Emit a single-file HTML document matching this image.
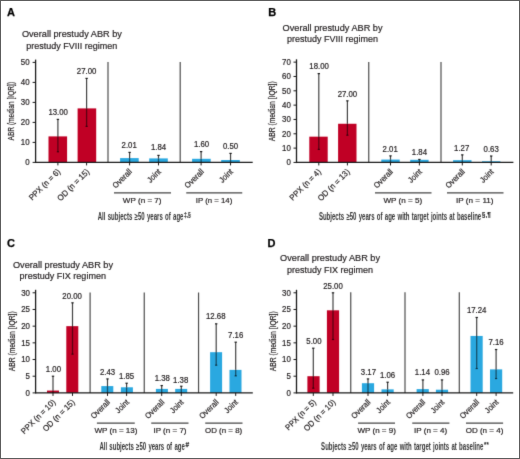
<!DOCTYPE html>
<html><head><meta charset="utf-8"><style>
html,body{margin:0;padding:0;background:#fff;}
body{width:520px;height:459px;overflow:hidden;}
svg{display:block;font-family:"Liberation Sans", sans-serif;}
.n{stroke:#231f20;stroke-width:0.2px;}
</style></head><body>
<svg width="520" height="459" viewBox="0 0 520 459">
<defs><filter id="soft" x="0" y="0" width="520" height="459" filterUnits="userSpaceOnUse" color-interpolation-filters="sRGB"><feConvolveMatrix order="3" kernelMatrix="0.0100 0.0800 0.0100 0.0800 0.6400 0.0800 0.0100 0.0800 0.0100" divisor="1" edgeMode="duplicate"/></filter></defs>
<g filter="url(#soft)">
<rect x="0" y="0" width="520" height="459" fill="#fff"/>
<text x="6.9" y="16.3" font-size="11" text-anchor="start" font-weight="bold" fill="#000" stroke="#000" stroke-width="0.25">A</text>
<text class="n" x="21.9" y="37" font-size="9.75" text-anchor="start" font-weight="normal" fill="#231f20" textLength="100" lengthAdjust="spacingAndGlyphs" >Overall prestudy ABR by</text>
<text class="n" x="26.25" y="48.6" font-size="9.75" text-anchor="start" font-weight="normal" fill="#231f20" textLength="91" lengthAdjust="spacingAndGlyphs" >prestudy FVIII regimen</text>
<text x="0" y="0" font-size="8.4" class="n" text-anchor="middle" fill="#231f20" textLength="58.6" lengthAdjust="spacingAndGlyphs" transform="translate(14.2,111.2) rotate(-90)">ABR (median [IQR])</text>
<line x1="32.6" y1="162.4" x2="35.6" y2="162.4" stroke="#1a1a1a" stroke-width="1"/>
<text class="n" x="29.6" y="165.3" font-size="8.3" text-anchor="end" font-weight="normal" fill="#231f20" textLength="4.39" lengthAdjust="spacingAndGlyphs" >0</text>
<line x1="32.6" y1="142.4" x2="35.6" y2="142.4" stroke="#1a1a1a" stroke-width="1"/>
<text class="n" x="29.6" y="145.3" font-size="8.3" text-anchor="end" font-weight="normal" fill="#231f20" textLength="8.78" lengthAdjust="spacingAndGlyphs" >10</text>
<line x1="32.6" y1="122.4" x2="35.6" y2="122.4" stroke="#1a1a1a" stroke-width="1"/>
<text class="n" x="29.6" y="125.30000000000001" font-size="8.3" text-anchor="end" font-weight="normal" fill="#231f20" textLength="8.78" lengthAdjust="spacingAndGlyphs" >20</text>
<line x1="32.6" y1="102.4" x2="35.6" y2="102.4" stroke="#1a1a1a" stroke-width="1"/>
<text class="n" x="29.6" y="105.30000000000001" font-size="8.3" text-anchor="end" font-weight="normal" fill="#231f20" textLength="8.78" lengthAdjust="spacingAndGlyphs" >30</text>
<line x1="32.6" y1="82.4" x2="35.6" y2="82.4" stroke="#1a1a1a" stroke-width="1"/>
<text class="n" x="29.6" y="85.30000000000001" font-size="8.3" text-anchor="end" font-weight="normal" fill="#231f20" textLength="8.78" lengthAdjust="spacingAndGlyphs" >40</text>
<line x1="32.6" y1="62.400000000000006" x2="35.6" y2="62.400000000000006" stroke="#1a1a1a" stroke-width="1"/>
<text class="n" x="29.6" y="65.30000000000001" font-size="8.3" text-anchor="end" font-weight="normal" fill="#231f20" textLength="8.78" lengthAdjust="spacingAndGlyphs" >50</text>
<line x1="35.6" y1="59.6" x2="35.6" y2="163.0" stroke="#1a1a1a" stroke-width="1.3"/>
<line x1="108.0" y1="61.9" x2="108.0" y2="162.4" stroke="#4d4d4d" stroke-width="1.2"/>
<line x1="180.2" y1="61.9" x2="180.2" y2="162.4" stroke="#4d4d4d" stroke-width="1.2"/>
<rect x="48.50" y="136.40" width="18.6" height="26.00" fill="#c00025"/>
<rect x="77.60" y="108.40" width="18.6" height="54.00" fill="#c00025"/>
<rect x="120.10" y="158.10" width="18.6" height="4.30" fill="#2aa8e0"/>
<rect x="149.20" y="158.40" width="18.6" height="4.00" fill="#2aa8e0"/>
<rect x="192.10" y="158.80" width="18.6" height="3.60" fill="#2aa8e0"/>
<rect x="221.20" y="160.00" width="18.6" height="2.40" fill="#2aa8e0"/>
<line x1="35.6" y1="162.4" x2="252.7" y2="162.4" stroke="#1a1a1a" stroke-width="1.3"/>
<line x1="57.9" y1="119.4" x2="57.9" y2="136.4" stroke="#000" stroke-opacity="0.74" stroke-width="1.2"/>
<line x1="57.9" y1="136.4" x2="57.9" y2="151.8" stroke="#000" stroke-opacity="0.52" stroke-width="1.3"/>
<line x1="56.8" y1="151.8" x2="59.0" y2="151.8" stroke="#000" stroke-opacity="0.6" stroke-width="1.2"/>
<line x1="56.699999999999996" y1="119.4" x2="59.1" y2="119.4" stroke="#000" stroke-opacity="0.85" stroke-width="1.2"/>
<line x1="57.9" y1="162.4" x2="57.9" y2="165.4" stroke="#1a1a1a" stroke-width="1"/>
<text class="n" x="58.199999999999996" y="114.70000000000002" font-size="8.3" text-anchor="middle" font-weight="normal" fill="#231f20" textLength="19.52" lengthAdjust="spacingAndGlyphs" >13.00</text>
<line x1="86.6" y1="78.4" x2="86.6" y2="108.4" stroke="#000" stroke-opacity="0.74" stroke-width="1.2"/>
<line x1="86.6" y1="108.4" x2="86.6" y2="126.4" stroke="#000" stroke-opacity="0.52" stroke-width="1.3"/>
<line x1="85.5" y1="126.4" x2="87.69999999999999" y2="126.4" stroke="#000" stroke-opacity="0.6" stroke-width="1.2"/>
<line x1="85.39999999999999" y1="78.4" x2="87.8" y2="78.4" stroke="#000" stroke-opacity="0.85" stroke-width="1.2"/>
<line x1="86.6" y1="162.4" x2="86.6" y2="165.4" stroke="#1a1a1a" stroke-width="1"/>
<text class="n" x="86.6" y="74.30000000000001" font-size="8.3" text-anchor="middle" font-weight="normal" fill="#231f20" textLength="19.52" lengthAdjust="spacingAndGlyphs" >27.00</text>
<line x1="129.6" y1="152.4" x2="129.6" y2="158.1" stroke="#000" stroke-opacity="0.74" stroke-width="1.2"/>
<line x1="129.6" y1="158.1" x2="129.6" y2="162.4" stroke="#000" stroke-opacity="0.52" stroke-width="1.3"/>
<line x1="128.4" y1="152.4" x2="130.79999999999998" y2="152.4" stroke="#000" stroke-opacity="0.85" stroke-width="1.2"/>
<line x1="129.6" y1="162.4" x2="129.6" y2="165.4" stroke="#1a1a1a" stroke-width="1"/>
<text class="n" x="129.2" y="148.0" font-size="8.3" text-anchor="middle" font-weight="normal" fill="#231f20" textLength="15.18" lengthAdjust="spacingAndGlyphs" >2.01</text>
<line x1="158.5" y1="155.4" x2="158.5" y2="158.4" stroke="#000" stroke-opacity="0.74" stroke-width="1.2"/>
<line x1="158.5" y1="158.4" x2="158.5" y2="162.4" stroke="#000" stroke-opacity="0.52" stroke-width="1.3"/>
<line x1="157.3" y1="155.4" x2="159.7" y2="155.4" stroke="#000" stroke-opacity="0.85" stroke-width="1.2"/>
<line x1="158.5" y1="162.4" x2="158.5" y2="165.4" stroke="#1a1a1a" stroke-width="1"/>
<text class="n" x="158.5" y="150.3" font-size="8.3" text-anchor="middle" font-weight="normal" fill="#231f20" textLength="15.18" lengthAdjust="spacingAndGlyphs" >1.84</text>
<line x1="201.1" y1="151.6" x2="201.1" y2="158.8" stroke="#000" stroke-opacity="0.74" stroke-width="1.2"/>
<line x1="201.1" y1="158.8" x2="201.1" y2="162.4" stroke="#000" stroke-opacity="0.52" stroke-width="1.3"/>
<line x1="199.9" y1="151.6" x2="202.29999999999998" y2="151.6" stroke="#000" stroke-opacity="0.85" stroke-width="1.2"/>
<line x1="201.1" y1="162.4" x2="201.1" y2="165.4" stroke="#1a1a1a" stroke-width="1"/>
<text class="n" x="201.6" y="146.9" font-size="8.3" text-anchor="middle" font-weight="normal" fill="#231f20" textLength="15.18" lengthAdjust="spacingAndGlyphs" >1.60</text>
<line x1="230.55" y1="153.4" x2="230.55" y2="160.0" stroke="#000" stroke-opacity="0.74" stroke-width="1.2"/>
<line x1="230.55" y1="160.0" x2="230.55" y2="162.4" stroke="#000" stroke-opacity="0.52" stroke-width="1.3"/>
<line x1="229.35000000000002" y1="153.4" x2="231.75" y2="153.4" stroke="#000" stroke-opacity="0.85" stroke-width="1.2"/>
<line x1="230.55" y1="162.4" x2="230.55" y2="165.4" stroke="#1a1a1a" stroke-width="1"/>
<text class="n" x="230.55" y="148.8" font-size="8.3" text-anchor="middle" font-weight="normal" fill="#231f20" textLength="15.18" lengthAdjust="spacingAndGlyphs" >0.50</text>
<text class="n" x="0" y="0" font-size="8.2" text-anchor="end" fill="#231f20" textLength="40.5" lengthAdjust="spacingAndGlyphs" transform="translate(60.80,172.20) rotate(-45)">PPX (n = 6)</text>
<text class="n" x="0" y="0" font-size="8.2" text-anchor="end" fill="#231f20" textLength="41.5" lengthAdjust="spacingAndGlyphs" transform="translate(89.90,172.20) rotate(-45)">OD (n = 15)</text>
<text class="n" x="0" y="0" font-size="8.2" text-anchor="end" fill="#231f20" textLength="23.4" lengthAdjust="spacingAndGlyphs" transform="translate(132.40,172.20) rotate(-45)">Overall</text>
<text class="n" x="0" y="0" font-size="8.2" text-anchor="end" fill="#231f20" textLength="15.6" lengthAdjust="spacingAndGlyphs" transform="translate(161.50,172.20) rotate(-45)">Joint</text>
<text class="n" x="0" y="0" font-size="8.2" text-anchor="end" fill="#231f20" textLength="23.4" lengthAdjust="spacingAndGlyphs" transform="translate(204.40,172.20) rotate(-45)">Overall</text>
<text class="n" x="0" y="0" font-size="8.2" text-anchor="end" fill="#231f20" textLength="15.6" lengthAdjust="spacingAndGlyphs" transform="translate(233.50,172.20) rotate(-45)">Joint</text>
<line x1="114" y1="192.9" x2="171" y2="192.9" stroke="#444" stroke-width="1.4"/>
<text class="n" x="142.2" y="203.25" font-size="7.8" text-anchor="middle" font-weight="normal" fill="#231f20" textLength="38.7" lengthAdjust="spacingAndGlyphs" >WP (n = 7)</text>
<line x1="186.25" y1="192.9" x2="242.25" y2="192.9" stroke="#444" stroke-width="1.4"/>
<text class="n" x="214" y="203.25" font-size="7.8" text-anchor="middle" font-weight="normal" fill="#231f20" textLength="36.5" lengthAdjust="spacingAndGlyphs" >IP (n = 14)</text>
<text x="97.7" y="219.7" font-size="10" text-anchor="start" font-weight="bold" fill="#333" textLength="85.8" lengthAdjust="spacingAndGlyphs" word-spacing="1">All subjects ≥50 years of age</text>
<text x="184.0" y="216.79999999999998" font-size="6.8" text-anchor="start" font-weight="500" fill="#2a2a2a" textLength="6.8" lengthAdjust="spacingAndGlyphs" stroke="#2a2a2a" stroke-width="0.25">‡,§</text>
<text x="268.2" y="16.3" font-size="11" text-anchor="start" font-weight="bold" fill="#000" stroke="#000" stroke-width="0.25">B</text>
<text class="n" x="282.6" y="30.7" font-size="9.75" text-anchor="start" font-weight="normal" fill="#231f20" textLength="99.9" lengthAdjust="spacingAndGlyphs" >Overall prestudy ABR by</text>
<text class="n" x="287" y="42.4" font-size="9.75" text-anchor="start" font-weight="normal" fill="#231f20" textLength="90.9" lengthAdjust="spacingAndGlyphs" >prestudy FVIII regimen</text>
<text x="0" y="0" font-size="8.4" class="n" text-anchor="middle" fill="#231f20" textLength="60" lengthAdjust="spacingAndGlyphs" transform="translate(275.3,111.25) rotate(-90)">ABR (median [IQR])</text>
<line x1="293.5" y1="162.45" x2="296.5" y2="162.45" stroke="#1a1a1a" stroke-width="1"/>
<text class="n" x="290.8" y="165.35" font-size="8.3" text-anchor="end" font-weight="normal" fill="#231f20" textLength="4.39" lengthAdjust="spacingAndGlyphs" >0</text>
<line x1="293.5" y1="148.11999999999998" x2="296.5" y2="148.11999999999998" stroke="#1a1a1a" stroke-width="1"/>
<text class="n" x="290.8" y="151.01999999999998" font-size="8.3" text-anchor="end" font-weight="normal" fill="#231f20" textLength="8.78" lengthAdjust="spacingAndGlyphs" >10</text>
<line x1="293.5" y1="133.79" x2="296.5" y2="133.79" stroke="#1a1a1a" stroke-width="1"/>
<text class="n" x="290.8" y="136.69" font-size="8.3" text-anchor="end" font-weight="normal" fill="#231f20" textLength="8.78" lengthAdjust="spacingAndGlyphs" >20</text>
<line x1="293.5" y1="119.45999999999998" x2="296.5" y2="119.45999999999998" stroke="#1a1a1a" stroke-width="1"/>
<text class="n" x="290.8" y="122.35999999999999" font-size="8.3" text-anchor="end" font-weight="normal" fill="#231f20" textLength="8.78" lengthAdjust="spacingAndGlyphs" >30</text>
<line x1="293.5" y1="105.13" x2="296.5" y2="105.13" stroke="#1a1a1a" stroke-width="1"/>
<text class="n" x="290.8" y="108.03" font-size="8.3" text-anchor="end" font-weight="normal" fill="#231f20" textLength="8.78" lengthAdjust="spacingAndGlyphs" >40</text>
<line x1="293.5" y1="90.79999999999998" x2="296.5" y2="90.79999999999998" stroke="#1a1a1a" stroke-width="1"/>
<text class="n" x="290.8" y="93.69999999999999" font-size="8.3" text-anchor="end" font-weight="normal" fill="#231f20" textLength="8.78" lengthAdjust="spacingAndGlyphs" >50</text>
<line x1="293.5" y1="76.46999999999998" x2="296.5" y2="76.46999999999998" stroke="#1a1a1a" stroke-width="1"/>
<text class="n" x="290.8" y="79.36999999999999" font-size="8.3" text-anchor="end" font-weight="normal" fill="#231f20" textLength="8.78" lengthAdjust="spacingAndGlyphs" >60</text>
<line x1="293.5" y1="62.139999999999986" x2="296.5" y2="62.139999999999986" stroke="#1a1a1a" stroke-width="1"/>
<text class="n" x="290.8" y="65.03999999999999" font-size="8.3" text-anchor="end" font-weight="normal" fill="#231f20" textLength="8.78" lengthAdjust="spacingAndGlyphs" >70</text>
<line x1="296.5" y1="59.3" x2="296.5" y2="163.04999999999998" stroke="#1a1a1a" stroke-width="1.3"/>
<line x1="368.75" y1="61.9" x2="368.75" y2="162.45" stroke="#4d4d4d" stroke-width="1.2"/>
<line x1="441.0" y1="61.9" x2="441.0" y2="162.45" stroke="#4d4d4d" stroke-width="1.2"/>
<rect x="309.30" y="136.66" width="18.4" height="25.79" fill="#c00025"/>
<rect x="338.10" y="123.76" width="18.4" height="38.69" fill="#c00025"/>
<rect x="381.30" y="159.57" width="18.4" height="2.88" fill="#2aa8e0"/>
<rect x="410.20" y="159.81" width="18.4" height="2.64" fill="#2aa8e0"/>
<rect x="453.10" y="160.16" width="18.4" height="2.29" fill="#2aa8e0"/>
<rect x="482.00" y="161.25" width="18.4" height="1.20" fill="#2aa8e0"/>
<line x1="296.5" y1="162.45" x2="513.4" y2="162.45" stroke="#1a1a1a" stroke-width="1.3"/>
<line x1="318.8" y1="73.60399999999998" x2="318.8" y2="136.65599999999998" stroke="#000" stroke-opacity="0.74" stroke-width="1.2"/>
<line x1="318.8" y1="136.65599999999998" x2="318.8" y2="149.4097" stroke="#000" stroke-opacity="0.52" stroke-width="1.3"/>
<line x1="317.7" y1="149.4097" x2="319.90000000000003" y2="149.4097" stroke="#000" stroke-opacity="0.6" stroke-width="1.2"/>
<line x1="317.6" y1="73.60399999999998" x2="320.0" y2="73.60399999999998" stroke="#000" stroke-opacity="0.85" stroke-width="1.2"/>
<line x1="318.8" y1="162.45" x2="318.8" y2="165.45" stroke="#1a1a1a" stroke-width="1"/>
<text class="n" x="319.1" y="69.204" font-size="8.3" text-anchor="middle" font-weight="normal" fill="#231f20" textLength="19.52" lengthAdjust="spacingAndGlyphs" >18.00</text>
<line x1="347.4" y1="100.83099999999999" x2="347.4" y2="123.75899999999999" stroke="#000" stroke-opacity="0.74" stroke-width="1.2"/>
<line x1="347.4" y1="123.75899999999999" x2="347.4" y2="135.22299999999998" stroke="#000" stroke-opacity="0.52" stroke-width="1.3"/>
<line x1="346.29999999999995" y1="135.22299999999998" x2="348.5" y2="135.22299999999998" stroke="#000" stroke-opacity="0.6" stroke-width="1.2"/>
<line x1="346.2" y1="100.83099999999999" x2="348.59999999999997" y2="100.83099999999999" stroke="#000" stroke-opacity="0.85" stroke-width="1.2"/>
<line x1="347.4" y1="162.45" x2="347.4" y2="165.45" stroke="#1a1a1a" stroke-width="1"/>
<text class="n" x="347.4" y="97.33099999999999" font-size="8.3" text-anchor="middle" font-weight="normal" fill="#231f20" textLength="19.52" lengthAdjust="spacingAndGlyphs" >27.00</text>
<line x1="390.5" y1="155.85819999999998" x2="390.5" y2="159.56967" stroke="#000" stroke-opacity="0.74" stroke-width="1.2"/>
<line x1="390.5" y1="159.56967" x2="390.5" y2="162.45" stroke="#000" stroke-opacity="0.52" stroke-width="1.3"/>
<line x1="389.3" y1="155.85819999999998" x2="391.7" y2="155.85819999999998" stroke="#000" stroke-opacity="0.85" stroke-width="1.2"/>
<line x1="390.5" y1="162.45" x2="390.5" y2="165.45" stroke="#1a1a1a" stroke-width="1"/>
<text class="n" x="390.2" y="152.1582" font-size="8.3" text-anchor="middle" font-weight="normal" fill="#231f20" textLength="15.18" lengthAdjust="spacingAndGlyphs" >2.01</text>
<line x1="419.4" y1="159.4407" x2="419.4" y2="159.81328" stroke="#000" stroke-opacity="0.74" stroke-width="1.2"/>
<line x1="419.4" y1="159.81328" x2="419.4" y2="162.45" stroke="#000" stroke-opacity="0.52" stroke-width="1.3"/>
<line x1="418.2" y1="159.4407" x2="420.59999999999997" y2="159.4407" stroke="#000" stroke-opacity="0.85" stroke-width="1.2"/>
<line x1="419.4" y1="162.45" x2="419.4" y2="165.45" stroke="#1a1a1a" stroke-width="1"/>
<text class="n" x="419.4" y="154.8407" font-size="8.3" text-anchor="middle" font-weight="normal" fill="#231f20" textLength="15.18" lengthAdjust="spacingAndGlyphs" >1.84</text>
<line x1="462.3" y1="154.8551" x2="462.3" y2="160.1572" stroke="#000" stroke-opacity="0.74" stroke-width="1.2"/>
<line x1="462.3" y1="160.1572" x2="462.3" y2="162.45" stroke="#000" stroke-opacity="0.52" stroke-width="1.3"/>
<line x1="461.1" y1="154.8551" x2="463.5" y2="154.8551" stroke="#000" stroke-opacity="0.85" stroke-width="1.2"/>
<line x1="462.3" y1="162.45" x2="462.3" y2="165.45" stroke="#1a1a1a" stroke-width="1"/>
<text class="n" x="461.7" y="151.1551" font-size="8.3" text-anchor="middle" font-weight="normal" fill="#231f20" textLength="15.18" lengthAdjust="spacingAndGlyphs" >1.27</text>
<line x1="491.2" y1="156.0015" x2="491.2" y2="161.3036" stroke="#000" stroke-opacity="0.74" stroke-width="1.2"/>
<line x1="491.2" y1="161.3036" x2="491.2" y2="162.45" stroke="#000" stroke-opacity="0.52" stroke-width="1.3"/>
<line x1="490.0" y1="156.0015" x2="492.4" y2="156.0015" stroke="#000" stroke-opacity="0.85" stroke-width="1.2"/>
<line x1="491.2" y1="162.45" x2="491.2" y2="165.45" stroke="#1a1a1a" stroke-width="1"/>
<text class="n" x="491.2" y="152.4015" font-size="8.3" text-anchor="middle" font-weight="normal" fill="#231f20" textLength="15.18" lengthAdjust="spacingAndGlyphs" >0.63</text>
<text class="n" x="0" y="0" font-size="8.2" text-anchor="end" fill="#231f20" textLength="40.5" lengthAdjust="spacingAndGlyphs" transform="translate(321.50,172.25) rotate(-45)">PPX (n = 4)</text>
<text class="n" x="0" y="0" font-size="8.2" text-anchor="end" fill="#231f20" textLength="41.5" lengthAdjust="spacingAndGlyphs" transform="translate(350.30,172.25) rotate(-45)">OD (n = 13)</text>
<text class="n" x="0" y="0" font-size="8.2" text-anchor="end" fill="#231f20" textLength="23.4" lengthAdjust="spacingAndGlyphs" transform="translate(393.50,172.25) rotate(-45)">Overall</text>
<text class="n" x="0" y="0" font-size="8.2" text-anchor="end" fill="#231f20" textLength="15.6" lengthAdjust="spacingAndGlyphs" transform="translate(422.40,172.25) rotate(-45)">Joint</text>
<text class="n" x="0" y="0" font-size="8.2" text-anchor="end" fill="#231f20" textLength="23.4" lengthAdjust="spacingAndGlyphs" transform="translate(465.30,172.25) rotate(-45)">Overall</text>
<text class="n" x="0" y="0" font-size="8.2" text-anchor="end" fill="#231f20" textLength="15.6" lengthAdjust="spacingAndGlyphs" transform="translate(494.20,172.25) rotate(-45)">Joint</text>
<line x1="375" y1="192.9" x2="431.5" y2="192.9" stroke="#444" stroke-width="1.4"/>
<text class="n" x="402.8" y="202.9" font-size="7.8" text-anchor="middle" font-weight="normal" fill="#231f20" textLength="38.7" lengthAdjust="spacingAndGlyphs" >WP (n = 5)</text>
<line x1="447" y1="192.9" x2="503.5" y2="192.9" stroke="#444" stroke-width="1.4"/>
<text class="n" x="474.8" y="202.9" font-size="7.8" text-anchor="middle" font-weight="normal" fill="#231f20" textLength="37.5" lengthAdjust="spacingAndGlyphs" >IP (n = 11)</text>
<text x="318.9" y="219.5" font-size="10" text-anchor="start" font-weight="bold" fill="#333" textLength="162.3" lengthAdjust="spacingAndGlyphs" word-spacing="1">Subjects ≥50 years of age with target joints at baseline</text>
<text x="481.79999999999995" y="216.6" font-size="6.8" text-anchor="start" font-weight="500" fill="#2a2a2a" textLength="9" lengthAdjust="spacingAndGlyphs" stroke="#2a2a2a" stroke-width="0.25">§,¶</text>
<text x="7.0" y="246.6" font-size="11" text-anchor="start" font-weight="bold" fill="#000" stroke="#000" stroke-width="0.25">C</text>
<text class="n" x="12.9" y="267.5" font-size="9.75" text-anchor="start" font-weight="normal" fill="#231f20" textLength="100.2" lengthAdjust="spacingAndGlyphs" >Overall prestudy ABR by</text>
<text class="n" x="19.6" y="279.0" font-size="9.75" text-anchor="start" font-weight="normal" fill="#231f20" textLength="86.4" lengthAdjust="spacingAndGlyphs" >prestudy FIX regimen</text>
<text x="0" y="0" font-size="8.4" class="n" text-anchor="middle" fill="#231f20" textLength="60" lengthAdjust="spacingAndGlyphs" transform="translate(15,341.25) rotate(-90)">ABR (median [IQR])</text>
<line x1="32.6" y1="392.9" x2="35.6" y2="392.9" stroke="#1a1a1a" stroke-width="1"/>
<text class="n" x="30" y="395.79999999999995" font-size="8.3" text-anchor="end" font-weight="normal" fill="#231f20" textLength="4.39" lengthAdjust="spacingAndGlyphs" >0</text>
<line x1="32.6" y1="376.215" x2="35.6" y2="376.215" stroke="#1a1a1a" stroke-width="1"/>
<text class="n" x="30" y="379.11499999999995" font-size="8.3" text-anchor="end" font-weight="normal" fill="#231f20" textLength="4.39" lengthAdjust="spacingAndGlyphs" >5</text>
<line x1="32.6" y1="359.53" x2="35.6" y2="359.53" stroke="#1a1a1a" stroke-width="1"/>
<text class="n" x="30" y="362.42999999999995" font-size="8.3" text-anchor="end" font-weight="normal" fill="#231f20" textLength="8.78" lengthAdjust="spacingAndGlyphs" >10</text>
<line x1="32.6" y1="342.84499999999997" x2="35.6" y2="342.84499999999997" stroke="#1a1a1a" stroke-width="1"/>
<text class="n" x="30" y="345.74499999999995" font-size="8.3" text-anchor="end" font-weight="normal" fill="#231f20" textLength="8.78" lengthAdjust="spacingAndGlyphs" >15</text>
<line x1="32.6" y1="326.15999999999997" x2="35.6" y2="326.15999999999997" stroke="#1a1a1a" stroke-width="1"/>
<text class="n" x="30" y="329.05999999999995" font-size="8.3" text-anchor="end" font-weight="normal" fill="#231f20" textLength="8.78" lengthAdjust="spacingAndGlyphs" >20</text>
<line x1="32.6" y1="309.47499999999997" x2="35.6" y2="309.47499999999997" stroke="#1a1a1a" stroke-width="1"/>
<text class="n" x="30" y="312.37499999999994" font-size="8.3" text-anchor="end" font-weight="normal" fill="#231f20" textLength="8.78" lengthAdjust="spacingAndGlyphs" >25</text>
<line x1="32.6" y1="292.78999999999996" x2="35.6" y2="292.78999999999996" stroke="#1a1a1a" stroke-width="1"/>
<text class="n" x="30" y="295.68999999999994" font-size="8.3" text-anchor="end" font-weight="normal" fill="#231f20" textLength="8.78" lengthAdjust="spacingAndGlyphs" >30</text>
<line x1="35.6" y1="289.8" x2="35.6" y2="393.5" stroke="#1a1a1a" stroke-width="1.3"/>
<line x1="90.1" y1="292.5" x2="90.1" y2="392.9" stroke="#4d4d4d" stroke-width="1.2"/>
<line x1="144.25" y1="292.5" x2="144.25" y2="392.9" stroke="#4d4d4d" stroke-width="1.2"/>
<line x1="198.55" y1="292.5" x2="198.55" y2="392.9" stroke="#4d4d4d" stroke-width="1.2"/>
<rect x="47.00" y="390.56" width="12" height="2.34" fill="#c00025"/>
<rect x="66.30" y="326.16" width="12" height="66.74" fill="#c00025"/>
<rect x="101.30" y="386.09" width="12" height="6.81" fill="#2aa8e0"/>
<rect x="120.90" y="387.29" width="12" height="5.61" fill="#2aa8e0"/>
<rect x="155.90" y="388.90" width="12" height="4.00" fill="#2aa8e0"/>
<rect x="175.20" y="388.90" width="12" height="4.00" fill="#2aa8e0"/>
<rect x="210.10" y="352.19" width="12" height="40.71" fill="#2aa8e0"/>
<rect x="229.50" y="369.87" width="12" height="23.03" fill="#2aa8e0"/>
<line x1="35.6" y1="392.9" x2="252.8" y2="392.9" stroke="#1a1a1a" stroke-width="1.3"/>
<line x1="53" y1="376.215" x2="53" y2="390.5641" stroke="#000" stroke-opacity="0.74" stroke-width="1.2"/>
<line x1="53" y1="390.5641" x2="53" y2="392.9" stroke="#000" stroke-opacity="0.52" stroke-width="1.3"/>
<line x1="51.8" y1="376.215" x2="54.2" y2="376.215" stroke="#000" stroke-opacity="0.85" stroke-width="1.2"/>
<line x1="53" y1="392.9" x2="53" y2="395.9" stroke="#1a1a1a" stroke-width="1"/>
<text class="n" x="53.4" y="372.41499999999996" font-size="8.3" text-anchor="middle" font-weight="normal" fill="#231f20" textLength="15.18" lengthAdjust="spacingAndGlyphs" >1.00</text>
<line x1="72.5" y1="302.801" x2="72.5" y2="326.15999999999997" stroke="#000" stroke-opacity="0.74" stroke-width="1.2"/>
<line x1="72.5" y1="326.15999999999997" x2="72.5" y2="354.19079999999997" stroke="#000" stroke-opacity="0.52" stroke-width="1.3"/>
<line x1="71.4" y1="354.19079999999997" x2="73.6" y2="354.19079999999997" stroke="#000" stroke-opacity="0.6" stroke-width="1.2"/>
<line x1="71.3" y1="302.801" x2="73.7" y2="302.801" stroke="#000" stroke-opacity="0.85" stroke-width="1.2"/>
<line x1="72.5" y1="392.9" x2="72.5" y2="395.9" stroke="#1a1a1a" stroke-width="1"/>
<text class="n" x="72.1" y="298.70099999999996" font-size="8.3" text-anchor="middle" font-weight="normal" fill="#231f20" textLength="19.52" lengthAdjust="spacingAndGlyphs" >20.00</text>
<line x1="107.5" y1="378.8846" x2="107.5" y2="386.09252" stroke="#000" stroke-opacity="0.74" stroke-width="1.2"/>
<line x1="107.5" y1="386.09252" x2="107.5" y2="392.9" stroke="#000" stroke-opacity="0.52" stroke-width="1.3"/>
<line x1="106.3" y1="378.8846" x2="108.7" y2="378.8846" stroke="#000" stroke-opacity="0.85" stroke-width="1.2"/>
<line x1="107.5" y1="392.9" x2="107.5" y2="395.9" stroke="#1a1a1a" stroke-width="1"/>
<text class="n" x="107.5" y="374.78459999999995" font-size="8.3" text-anchor="middle" font-weight="normal" fill="#231f20" textLength="15.18" lengthAdjust="spacingAndGlyphs" >2.43</text>
<line x1="126.6" y1="383.2227" x2="126.6" y2="387.29384" stroke="#000" stroke-opacity="0.74" stroke-width="1.2"/>
<line x1="126.6" y1="387.29384" x2="126.6" y2="392.9" stroke="#000" stroke-opacity="0.52" stroke-width="1.3"/>
<line x1="125.39999999999999" y1="383.2227" x2="127.8" y2="383.2227" stroke="#000" stroke-opacity="0.85" stroke-width="1.2"/>
<line x1="126.6" y1="392.9" x2="126.6" y2="395.9" stroke="#1a1a1a" stroke-width="1"/>
<text class="n" x="126.6" y="379.12269999999995" font-size="8.3" text-anchor="middle" font-weight="normal" fill="#231f20" textLength="15.18" lengthAdjust="spacingAndGlyphs" >1.85</text>
<line x1="161.7" y1="385.55859999999996" x2="161.7" y2="388.8956" stroke="#000" stroke-opacity="0.74" stroke-width="1.2"/>
<line x1="161.7" y1="388.8956" x2="161.7" y2="392.9" stroke="#000" stroke-opacity="0.52" stroke-width="1.3"/>
<line x1="160.5" y1="385.55859999999996" x2="162.89999999999998" y2="385.55859999999996" stroke="#000" stroke-opacity="0.85" stroke-width="1.2"/>
<line x1="161.7" y1="392.9" x2="161.7" y2="395.9" stroke="#1a1a1a" stroke-width="1"/>
<text class="n" x="162.29999999999998" y="380.75859999999994" font-size="8.3" text-anchor="middle" font-weight="normal" fill="#231f20" textLength="15.18" lengthAdjust="spacingAndGlyphs" >1.38</text>
<line x1="181.3" y1="386.226" x2="181.3" y2="388.8956" stroke="#000" stroke-opacity="0.74" stroke-width="1.2"/>
<line x1="181.3" y1="388.8956" x2="181.3" y2="392.9" stroke="#000" stroke-opacity="0.52" stroke-width="1.3"/>
<line x1="180.10000000000002" y1="386.226" x2="182.5" y2="386.226" stroke="#000" stroke-opacity="0.85" stroke-width="1.2"/>
<line x1="181.3" y1="392.9" x2="181.3" y2="395.9" stroke="#1a1a1a" stroke-width="1"/>
<text class="n" x="180.70000000000002" y="383.02599999999995" font-size="8.3" text-anchor="middle" font-weight="normal" fill="#231f20" textLength="15.18" lengthAdjust="spacingAndGlyphs" >1.38</text>
<line x1="216.2" y1="323.8241" x2="216.2" y2="352.18859999999995" stroke="#000" stroke-opacity="0.74" stroke-width="1.2"/>
<line x1="216.2" y1="352.18859999999995" x2="216.2" y2="365.2029" stroke="#000" stroke-opacity="0.52" stroke-width="1.3"/>
<line x1="215.1" y1="365.2029" x2="217.29999999999998" y2="365.2029" stroke="#000" stroke-opacity="0.6" stroke-width="1.2"/>
<line x1="215.0" y1="323.8241" x2="217.39999999999998" y2="323.8241" stroke="#000" stroke-opacity="0.85" stroke-width="1.2"/>
<line x1="216.2" y1="392.9" x2="216.2" y2="395.9" stroke="#1a1a1a" stroke-width="1"/>
<text class="n" x="215.79999999999998" y="319.22409999999996" font-size="8.3" text-anchor="middle" font-weight="normal" fill="#231f20" textLength="19.52" lengthAdjust="spacingAndGlyphs" >12.68</text>
<line x1="235.7" y1="342.1776" x2="235.7" y2="369.87469999999996" stroke="#000" stroke-opacity="0.74" stroke-width="1.2"/>
<line x1="235.7" y1="369.87469999999996" x2="235.7" y2="375.88129999999995" stroke="#000" stroke-opacity="0.52" stroke-width="1.3"/>
<line x1="234.6" y1="375.88129999999995" x2="236.79999999999998" y2="375.88129999999995" stroke="#000" stroke-opacity="0.6" stroke-width="1.2"/>
<line x1="234.5" y1="342.1776" x2="236.89999999999998" y2="342.1776" stroke="#000" stroke-opacity="0.85" stroke-width="1.2"/>
<line x1="235.7" y1="392.9" x2="235.7" y2="395.9" stroke="#1a1a1a" stroke-width="1"/>
<text class="n" x="235.7" y="338.07759999999996" font-size="8.3" text-anchor="middle" font-weight="normal" fill="#231f20" textLength="15.18" lengthAdjust="spacingAndGlyphs" >7.16</text>
<text class="n" x="0" y="0" font-size="8.2" text-anchor="end" fill="#231f20" textLength="44.8" lengthAdjust="spacingAndGlyphs" transform="translate(56.00,402.70) rotate(-45)">PPX (n = 10)</text>
<text class="n" x="0" y="0" font-size="8.2" text-anchor="end" fill="#231f20" textLength="41.5" lengthAdjust="spacingAndGlyphs" transform="translate(75.30,402.70) rotate(-45)">OD (n = 15)</text>
<text class="n" x="0" y="0" font-size="8.2" text-anchor="end" fill="#231f20" textLength="23.4" lengthAdjust="spacingAndGlyphs" transform="translate(110.50,402.70) rotate(-45)">Overall</text>
<text class="n" x="0" y="0" font-size="8.2" text-anchor="end" fill="#231f20" textLength="15.6" lengthAdjust="spacingAndGlyphs" transform="translate(129.60,402.70) rotate(-45)">Joint</text>
<text class="n" x="0" y="0" font-size="8.2" text-anchor="end" fill="#231f20" textLength="23.4" lengthAdjust="spacingAndGlyphs" transform="translate(164.80,402.70) rotate(-45)">Overall</text>
<text class="n" x="0" y="0" font-size="8.2" text-anchor="end" fill="#231f20" textLength="15.6" lengthAdjust="spacingAndGlyphs" transform="translate(184.20,402.70) rotate(-45)">Joint</text>
<text class="n" x="0" y="0" font-size="8.2" text-anchor="end" fill="#231f20" textLength="23.4" lengthAdjust="spacingAndGlyphs" transform="translate(219.10,402.70) rotate(-45)">Overall</text>
<text class="n" x="0" y="0" font-size="8.2" text-anchor="end" fill="#231f20" textLength="15.6" lengthAdjust="spacingAndGlyphs" transform="translate(238.50,402.70) rotate(-45)">Joint</text>
<line x1="96.9" y1="423.2" x2="134.75" y2="423.2" stroke="#444" stroke-width="1.2"/>
<text class="n" x="116" y="433.1" font-size="7.8" text-anchor="middle" font-weight="normal" fill="#231f20" textLength="43.1" lengthAdjust="spacingAndGlyphs" >WP (n = 13)</text>
<line x1="151.25" y1="423.2" x2="188.5" y2="423.2" stroke="#444" stroke-width="1.2"/>
<text class="n" x="170" y="433.1" font-size="7.8" text-anchor="middle" font-weight="normal" fill="#231f20" textLength="33.1" lengthAdjust="spacingAndGlyphs" >IP (n = 7)</text>
<line x1="205.25" y1="423.2" x2="242.5" y2="423.2" stroke="#444" stroke-width="1.2"/>
<text class="n" x="223.6" y="433.1" font-size="7.8" text-anchor="middle" font-weight="normal" fill="#231f20" textLength="37.2" lengthAdjust="spacingAndGlyphs" >OD (n = 8)</text>
<text x="99.4" y="450.0" font-size="10" text-anchor="start" font-weight="bold" fill="#333" textLength="85.4" lengthAdjust="spacingAndGlyphs" word-spacing="1">All subjects ≥50 years of age</text>
<text x="185.6" y="447.1" font-size="6.8" text-anchor="start" font-weight="500" fill="#2a2a2a" textLength="3.6" lengthAdjust="spacingAndGlyphs" stroke="#2a2a2a" stroke-width="0.25">#</text>
<text x="267.5" y="246.7" font-size="11" text-anchor="start" font-weight="bold" fill="#000" stroke="#000" stroke-width="0.25">D</text>
<text class="n" x="280.1" y="261" font-size="9.75" text-anchor="start" font-weight="normal" fill="#231f20" textLength="99.9" lengthAdjust="spacingAndGlyphs" >Overall prestudy ABR by</text>
<text class="n" x="287" y="272.7" font-size="9.75" text-anchor="start" font-weight="normal" fill="#231f20" textLength="85.9" lengthAdjust="spacingAndGlyphs" >prestudy FIX regimen</text>
<text x="0" y="0" font-size="8.4" class="n" text-anchor="middle" fill="#231f20" textLength="60" lengthAdjust="spacingAndGlyphs" transform="translate(275.5,341.25) rotate(-90)">ABR (median [IQR])</text>
<line x1="293.5" y1="392.9" x2="296.5" y2="392.9" stroke="#1a1a1a" stroke-width="1"/>
<text class="n" x="290.8" y="395.79999999999995" font-size="8.3" text-anchor="end" font-weight="normal" fill="#231f20" textLength="4.39" lengthAdjust="spacingAndGlyphs" >0</text>
<line x1="293.5" y1="376.215" x2="296.5" y2="376.215" stroke="#1a1a1a" stroke-width="1"/>
<text class="n" x="290.8" y="379.11499999999995" font-size="8.3" text-anchor="end" font-weight="normal" fill="#231f20" textLength="4.39" lengthAdjust="spacingAndGlyphs" >5</text>
<line x1="293.5" y1="359.53" x2="296.5" y2="359.53" stroke="#1a1a1a" stroke-width="1"/>
<text class="n" x="290.8" y="362.42999999999995" font-size="8.3" text-anchor="end" font-weight="normal" fill="#231f20" textLength="8.78" lengthAdjust="spacingAndGlyphs" >10</text>
<line x1="293.5" y1="342.84499999999997" x2="296.5" y2="342.84499999999997" stroke="#1a1a1a" stroke-width="1"/>
<text class="n" x="290.8" y="345.74499999999995" font-size="8.3" text-anchor="end" font-weight="normal" fill="#231f20" textLength="8.78" lengthAdjust="spacingAndGlyphs" >15</text>
<line x1="293.5" y1="326.15999999999997" x2="296.5" y2="326.15999999999997" stroke="#1a1a1a" stroke-width="1"/>
<text class="n" x="290.8" y="329.05999999999995" font-size="8.3" text-anchor="end" font-weight="normal" fill="#231f20" textLength="8.78" lengthAdjust="spacingAndGlyphs" >20</text>
<line x1="293.5" y1="309.47499999999997" x2="296.5" y2="309.47499999999997" stroke="#1a1a1a" stroke-width="1"/>
<text class="n" x="290.8" y="312.37499999999994" font-size="8.3" text-anchor="end" font-weight="normal" fill="#231f20" textLength="8.78" lengthAdjust="spacingAndGlyphs" >25</text>
<line x1="293.5" y1="292.78999999999996" x2="296.5" y2="292.78999999999996" stroke="#1a1a1a" stroke-width="1"/>
<text class="n" x="290.8" y="295.68999999999994" font-size="8.3" text-anchor="end" font-weight="normal" fill="#231f20" textLength="8.78" lengthAdjust="spacingAndGlyphs" >30</text>
<line x1="296.5" y1="289.8" x2="296.5" y2="393.5" stroke="#1a1a1a" stroke-width="1.3"/>
<line x1="350.75" y1="292.3" x2="350.75" y2="392.9" stroke="#4d4d4d" stroke-width="1.2"/>
<line x1="405.0" y1="292.3" x2="405.0" y2="392.9" stroke="#4d4d4d" stroke-width="1.2"/>
<line x1="459.3" y1="292.3" x2="459.3" y2="392.9" stroke="#4d4d4d" stroke-width="1.2"/>
<rect x="307.40" y="376.21" width="12.2" height="16.69" fill="#c00025"/>
<rect x="326.90" y="310.31" width="12.2" height="82.59" fill="#c00025"/>
<rect x="361.90" y="383.22" width="12.2" height="9.68" fill="#2aa8e0"/>
<rect x="381.50" y="389.36" width="12.2" height="3.54" fill="#2aa8e0"/>
<rect x="416.60" y="389.10" width="12.2" height="3.80" fill="#2aa8e0"/>
<rect x="435.90" y="389.70" width="12.2" height="3.20" fill="#2aa8e0"/>
<rect x="470.50" y="335.94" width="12.2" height="56.96" fill="#2aa8e0"/>
<rect x="490.00" y="369.37" width="12.2" height="23.53" fill="#2aa8e0"/>
<line x1="296.5" y1="392.9" x2="513.2" y2="392.9" stroke="#1a1a1a" stroke-width="1.3"/>
<line x1="313.3" y1="348.1842" x2="313.3" y2="376.215" stroke="#000" stroke-opacity="0.74" stroke-width="1.2"/>
<line x1="313.3" y1="376.215" x2="313.3" y2="388.22819999999996" stroke="#000" stroke-opacity="0.52" stroke-width="1.3"/>
<line x1="312.2" y1="388.22819999999996" x2="314.40000000000003" y2="388.22819999999996" stroke="#000" stroke-opacity="0.6" stroke-width="1.2"/>
<line x1="312.1" y1="348.1842" x2="314.5" y2="348.1842" stroke="#000" stroke-opacity="0.85" stroke-width="1.2"/>
<line x1="313.3" y1="392.9" x2="313.3" y2="395.9" stroke="#1a1a1a" stroke-width="1"/>
<text class="n" x="313.90000000000003" y="343.58419999999995" font-size="8.3" text-anchor="middle" font-weight="normal" fill="#231f20" textLength="15.18" lengthAdjust="spacingAndGlyphs" >5.00</text>
<line x1="333" y1="292.78999999999996" x2="333" y2="310.30924999999996" stroke="#000" stroke-opacity="0.74" stroke-width="1.2"/>
<line x1="333" y1="310.30924999999996" x2="333" y2="339.508" stroke="#000" stroke-opacity="0.52" stroke-width="1.3"/>
<line x1="331.9" y1="339.508" x2="334.1" y2="339.508" stroke="#000" stroke-opacity="0.6" stroke-width="1.2"/>
<line x1="331.8" y1="292.78999999999996" x2="334.2" y2="292.78999999999996" stroke="#000" stroke-opacity="0.85" stroke-width="1.2"/>
<line x1="333" y1="392.9" x2="333" y2="395.9" stroke="#1a1a1a" stroke-width="1"/>
<text class="n" x="333" y="288.68999999999994" font-size="8.3" text-anchor="middle" font-weight="normal" fill="#231f20" textLength="19.52" lengthAdjust="spacingAndGlyphs" >25.00</text>
<line x1="368" y1="378.8846" x2="368" y2="383.2227" stroke="#000" stroke-opacity="0.74" stroke-width="1.2"/>
<line x1="368" y1="383.2227" x2="368" y2="392.9" stroke="#000" stroke-opacity="0.52" stroke-width="1.3"/>
<line x1="366.8" y1="378.8846" x2="369.2" y2="378.8846" stroke="#000" stroke-opacity="0.85" stroke-width="1.2"/>
<line x1="368" y1="392.9" x2="368" y2="395.9" stroke="#1a1a1a" stroke-width="1"/>
<text class="n" x="368.4" y="374.78459999999995" font-size="8.3" text-anchor="middle" font-weight="normal" fill="#231f20" textLength="15.18" lengthAdjust="spacingAndGlyphs" >3.17</text>
<line x1="387.6" y1="382.22159999999997" x2="387.6" y2="389.36278" stroke="#000" stroke-opacity="0.74" stroke-width="1.2"/>
<line x1="387.6" y1="389.36278" x2="387.6" y2="392.9" stroke="#000" stroke-opacity="0.52" stroke-width="1.3"/>
<line x1="386.40000000000003" y1="382.22159999999997" x2="388.8" y2="382.22159999999997" stroke="#000" stroke-opacity="0.85" stroke-width="1.2"/>
<line x1="387.6" y1="392.9" x2="387.6" y2="395.9" stroke="#1a1a1a" stroke-width="1"/>
<text class="n" x="387.6" y="378.12159999999994" font-size="8.3" text-anchor="middle" font-weight="normal" fill="#231f20" textLength="15.18" lengthAdjust="spacingAndGlyphs" >1.06</text>
<line x1="422.9" y1="379.8857" x2="422.9" y2="389.09582" stroke="#000" stroke-opacity="0.74" stroke-width="1.2"/>
<line x1="422.9" y1="389.09582" x2="422.9" y2="392.9" stroke="#000" stroke-opacity="0.52" stroke-width="1.3"/>
<line x1="421.7" y1="379.8857" x2="424.09999999999997" y2="379.8857" stroke="#000" stroke-opacity="0.85" stroke-width="1.2"/>
<line x1="422.9" y1="392.9" x2="422.9" y2="395.9" stroke="#1a1a1a" stroke-width="1"/>
<text class="n" x="422.4" y="375.28569999999996" font-size="8.3" text-anchor="middle" font-weight="normal" fill="#231f20" textLength="15.18" lengthAdjust="spacingAndGlyphs" >1.14</text>
<line x1="442" y1="379.8857" x2="442" y2="389.69647999999995" stroke="#000" stroke-opacity="0.74" stroke-width="1.2"/>
<line x1="442" y1="389.69647999999995" x2="442" y2="392.9" stroke="#000" stroke-opacity="0.52" stroke-width="1.3"/>
<line x1="440.8" y1="379.8857" x2="443.2" y2="379.8857" stroke="#000" stroke-opacity="0.85" stroke-width="1.2"/>
<line x1="442" y1="392.9" x2="442" y2="395.9" stroke="#1a1a1a" stroke-width="1"/>
<text class="n" x="442" y="375.28569999999996" font-size="8.3" text-anchor="middle" font-weight="normal" fill="#231f20" textLength="15.18" lengthAdjust="spacingAndGlyphs" >0.96</text>
<line x1="476.7" y1="317.4838" x2="476.7" y2="335.93741" stroke="#000" stroke-opacity="0.74" stroke-width="1.2"/>
<line x1="476.7" y1="335.93741" x2="476.7" y2="368.5399" stroke="#000" stroke-opacity="0.52" stroke-width="1.3"/>
<line x1="475.59999999999997" y1="368.5399" x2="477.8" y2="368.5399" stroke="#000" stroke-opacity="0.6" stroke-width="1.2"/>
<line x1="475.5" y1="317.4838" x2="477.9" y2="317.4838" stroke="#000" stroke-opacity="0.85" stroke-width="1.2"/>
<line x1="476.7" y1="392.9" x2="476.7" y2="395.9" stroke="#1a1a1a" stroke-width="1"/>
<text class="n" x="476.7" y="312.68379999999996" font-size="8.3" text-anchor="middle" font-weight="normal" fill="#231f20" textLength="19.52" lengthAdjust="spacingAndGlyphs" >17.24</text>
<line x1="496.1" y1="349.519" x2="496.1" y2="369.37415" stroke="#000" stroke-opacity="0.74" stroke-width="1.2"/>
<line x1="496.1" y1="369.37415" x2="496.1" y2="378.55089999999996" stroke="#000" stroke-opacity="0.52" stroke-width="1.3"/>
<line x1="495.0" y1="378.55089999999996" x2="497.20000000000005" y2="378.55089999999996" stroke="#000" stroke-opacity="0.6" stroke-width="1.2"/>
<line x1="494.90000000000003" y1="349.519" x2="497.3" y2="349.519" stroke="#000" stroke-opacity="0.85" stroke-width="1.2"/>
<line x1="496.1" y1="392.9" x2="496.1" y2="395.9" stroke="#1a1a1a" stroke-width="1"/>
<text class="n" x="496.1" y="345.019" font-size="8.3" text-anchor="middle" font-weight="normal" fill="#231f20" textLength="15.18" lengthAdjust="spacingAndGlyphs" >7.16</text>
<text class="n" x="0" y="0" font-size="8.2" text-anchor="end" fill="#231f20" textLength="39.5" lengthAdjust="spacingAndGlyphs" transform="translate(316.50,402.70) rotate(-45)">PPX (n = 5)</text>
<text class="n" x="0" y="0" font-size="8.2" text-anchor="end" fill="#231f20" textLength="41.0" lengthAdjust="spacingAndGlyphs" transform="translate(336.00,402.70) rotate(-45)">OD (n = 10)</text>
<text class="n" x="0" y="0" font-size="8.2" text-anchor="end" fill="#231f20" textLength="23.4" lengthAdjust="spacingAndGlyphs" transform="translate(371.00,402.70) rotate(-45)">Overall</text>
<text class="n" x="0" y="0" font-size="8.2" text-anchor="end" fill="#231f20" textLength="15.6" lengthAdjust="spacingAndGlyphs" transform="translate(390.60,402.70) rotate(-45)">Joint</text>
<text class="n" x="0" y="0" font-size="8.2" text-anchor="end" fill="#231f20" textLength="23.4" lengthAdjust="spacingAndGlyphs" transform="translate(425.70,402.70) rotate(-45)">Overall</text>
<text class="n" x="0" y="0" font-size="8.2" text-anchor="end" fill="#231f20" textLength="15.6" lengthAdjust="spacingAndGlyphs" transform="translate(445.00,402.70) rotate(-45)">Joint</text>
<text class="n" x="0" y="0" font-size="8.2" text-anchor="end" fill="#231f20" textLength="23.4" lengthAdjust="spacingAndGlyphs" transform="translate(479.60,402.70) rotate(-45)">Overall</text>
<text class="n" x="0" y="0" font-size="8.2" text-anchor="end" fill="#231f20" textLength="15.6" lengthAdjust="spacingAndGlyphs" transform="translate(499.10,402.70) rotate(-45)">Joint</text>
<line x1="358.1" y1="423.2" x2="395" y2="423.2" stroke="#444" stroke-width="1.2"/>
<text class="n" x="376.7" y="433.1" font-size="7.8" text-anchor="middle" font-weight="normal" fill="#231f20" textLength="38.4" lengthAdjust="spacingAndGlyphs" >WP (n = 9)</text>
<line x1="412.25" y1="423.2" x2="449.4" y2="423.2" stroke="#444" stroke-width="1.2"/>
<text class="n" x="430.6" y="433.1" font-size="7.8" text-anchor="middle" font-weight="normal" fill="#231f20" textLength="33.1" lengthAdjust="spacingAndGlyphs" >IP (n = 4)</text>
<line x1="466" y1="423.2" x2="503.1" y2="423.2" stroke="#444" stroke-width="1.2"/>
<text class="n" x="484.5" y="433.1" font-size="7.8" text-anchor="middle" font-weight="normal" fill="#231f20" textLength="37.7" lengthAdjust="spacingAndGlyphs" >OD (n = 4)</text>
<text x="321.1" y="449.6" font-size="10" text-anchor="start" font-weight="bold" fill="#333" textLength="162.2" lengthAdjust="spacingAndGlyphs" word-spacing="1">Subjects ≥50 years of age with target joints at baseline</text>
<text x="484.09999999999997" y="446.70000000000005" font-size="6.8" text-anchor="start" font-weight="500" fill="#2a2a2a" textLength="4.6" lengthAdjust="spacingAndGlyphs" stroke="#2a2a2a" stroke-width="0.25">**</text>
</g>
<rect x="0.5" y="0.5" width="519" height="458" fill="none" stroke="#5c5c5c" stroke-width="1"/>
</svg>
</body></html>
